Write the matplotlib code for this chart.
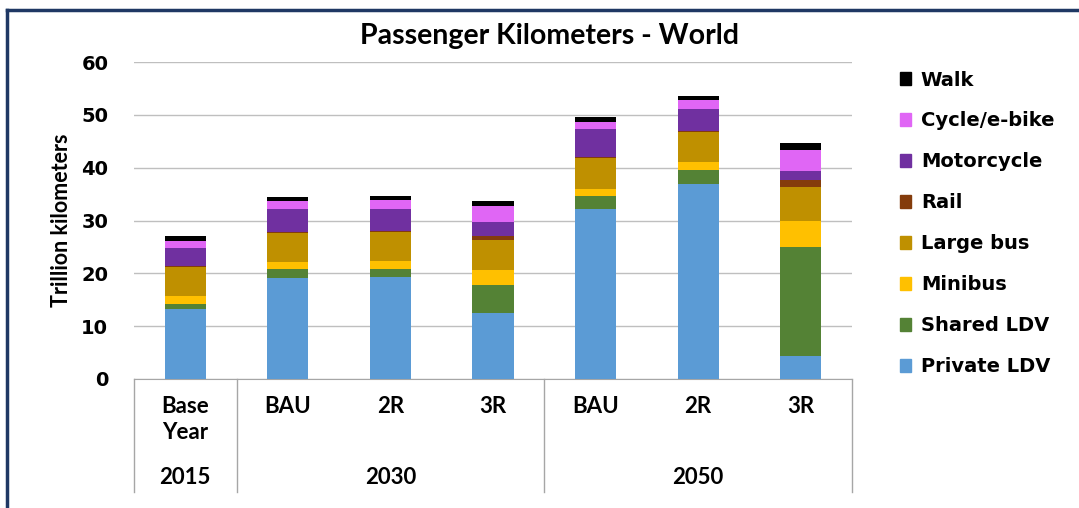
import numpy as np
import matplotlib
matplotlib.use("Agg")
import matplotlib.pyplot as plt
from matplotlib.patches import Patch
from matplotlib.lines import Line2D

# data (trillion km)
scenarios = ["Base\nYear", "BAU", "2R", "3R", "BAU", "2R", "3R"]
years = ["2015", "2030", "2050"]
modes = ["Private LDV", "Shared LDV", "Minibus", "Large bus", "Rail",
         "Motorcycle", "Cycle/e-bike", "Walk"]

private_ldv = [13.2, 19.1, 19.3, 12.5, 32.2, 36.9, 4.35]
shared_ldv = [1.0, 1.7, 1.6, 5.3, 2.5, 2.7, 20.65]
minibus = [1.5, 1.3, 1.4, 2.8, 1.3, 1.5, 4.9]
large_bus = [5.5, 5.6, 5.5, 5.7, 5.8, 5.6, 6.4]
rail = [0.1, 0.2, 0.3, 0.8, 0.3, 0.2, 1.4]
motorcycle = [3.55, 4.3, 4.1, 2.6, 5.3, 4.2, 1.7]
cycle = [1.3, 1.5, 1.7, 3.0, 1.3, 1.7, 4.0]
walk = [1.0, 0.8, 0.8, 1.0, 0.9, 0.85, 1.2]

series = [private_ldv, shared_ldv, minibus, large_bus, rail, motorcycle, cycle, walk]
colors = ["#5B9BD5", "#548235", "#FFC000", "#BF9000", "#843C0C",
          "#7030A0", "#E066F5", "#000000"]

W, H = 1079, 508
fig = plt.figure(figsize=(W / 100, H / 100), dpi=100)

# outer frame (top and left edges visible)
fig.add_artist(Line2D([7 / W, 7 / W], [0, 1 - 10 / H], color="#1F3864", lw=2.5))
fig.add_artist(Line2D([7 / W, 1], [1 - 10 / H, 1 - 10 / H], color="#1F3864", lw=2.5))

ax = fig.add_axes([134 / W, (H - 379) / H, (852 - 134) / W, (379 - 62) / H])

x = np.arange(len(scenarios))
bottom = np.zeros(len(scenarios))
for vals, c in zip(series, colors):
    ax.bar(x, vals, width=0.4, bottom=bottom, color=c, zorder=3)
    bottom += np.array(vals)

ax.set_xlim(-0.5, 6.5)
ax.set_ylim(0, 60)
ax.set_yticks(range(0, 61, 10))
ax.yaxis.grid(True, color="#BFBFBF", lw=1)
ax.set_axisbelow(True)
for s in ["top", "right", "left"]:
    ax.spines[s].set_visible(False)
ax.spines["bottom"].set_color("#A6A6A6")
ax.tick_params(axis="y", length=0, pad=18.5, labelsize=14)
for lab in ax.get_yticklabels():
    lab.set_fontweight("bold")
ax.set_xticks([])

ax.set_ylabel("Trillion kilometers", fontsize=15.5, fontweight="bold",
              family="Lato")
ax.yaxis.set_label_coords((72 - 134) / 718, 0.5)
fig.text(549 / W, 1 - 36 / H, "Passenger Kilometers - World", ha="center",
         va="center", fontsize=20.5, fontweight="bold", family="Lato")

# two-level category axis
trans = ax.get_xaxis_transform()
y_low = (379 - 492) / (379 - 62)
for xs in [-0.5, 0.5, 3.5, 6.5]:
    ax.plot([xs, xs], [0, y_low], transform=trans, color="#A6A6A6",
            lw=1, clip_on=False)
for i, s in enumerate(scenarios):
    ax.text(i, (379 - 396) / 317, s, transform=trans, ha="center", va="top",
            fontsize=16, fontweight="bold", family="Lato", linespacing=1.3)
year_pos = [0, 2, 5]
for xp, yr in zip(year_pos, years):
    ax.text(xp, (379 - 478) / 317, yr, transform=trans, ha="center",
            va="center", fontsize=16, fontweight="bold", family="Lato")

handles = [Patch(color=c) for c in colors][::-1]
fig.legend(handles, modes[::-1], loc="upper left",
           bbox_to_anchor=(882 / W, 1 - 53 / H), frameon=False,
           prop={"weight": "bold", "size": 14}, handlelength=0.6,
           handleheight=0.6, handletextpad=0.5, labelspacing=1.13)

fig.savefig("out.png", dpi=100)
